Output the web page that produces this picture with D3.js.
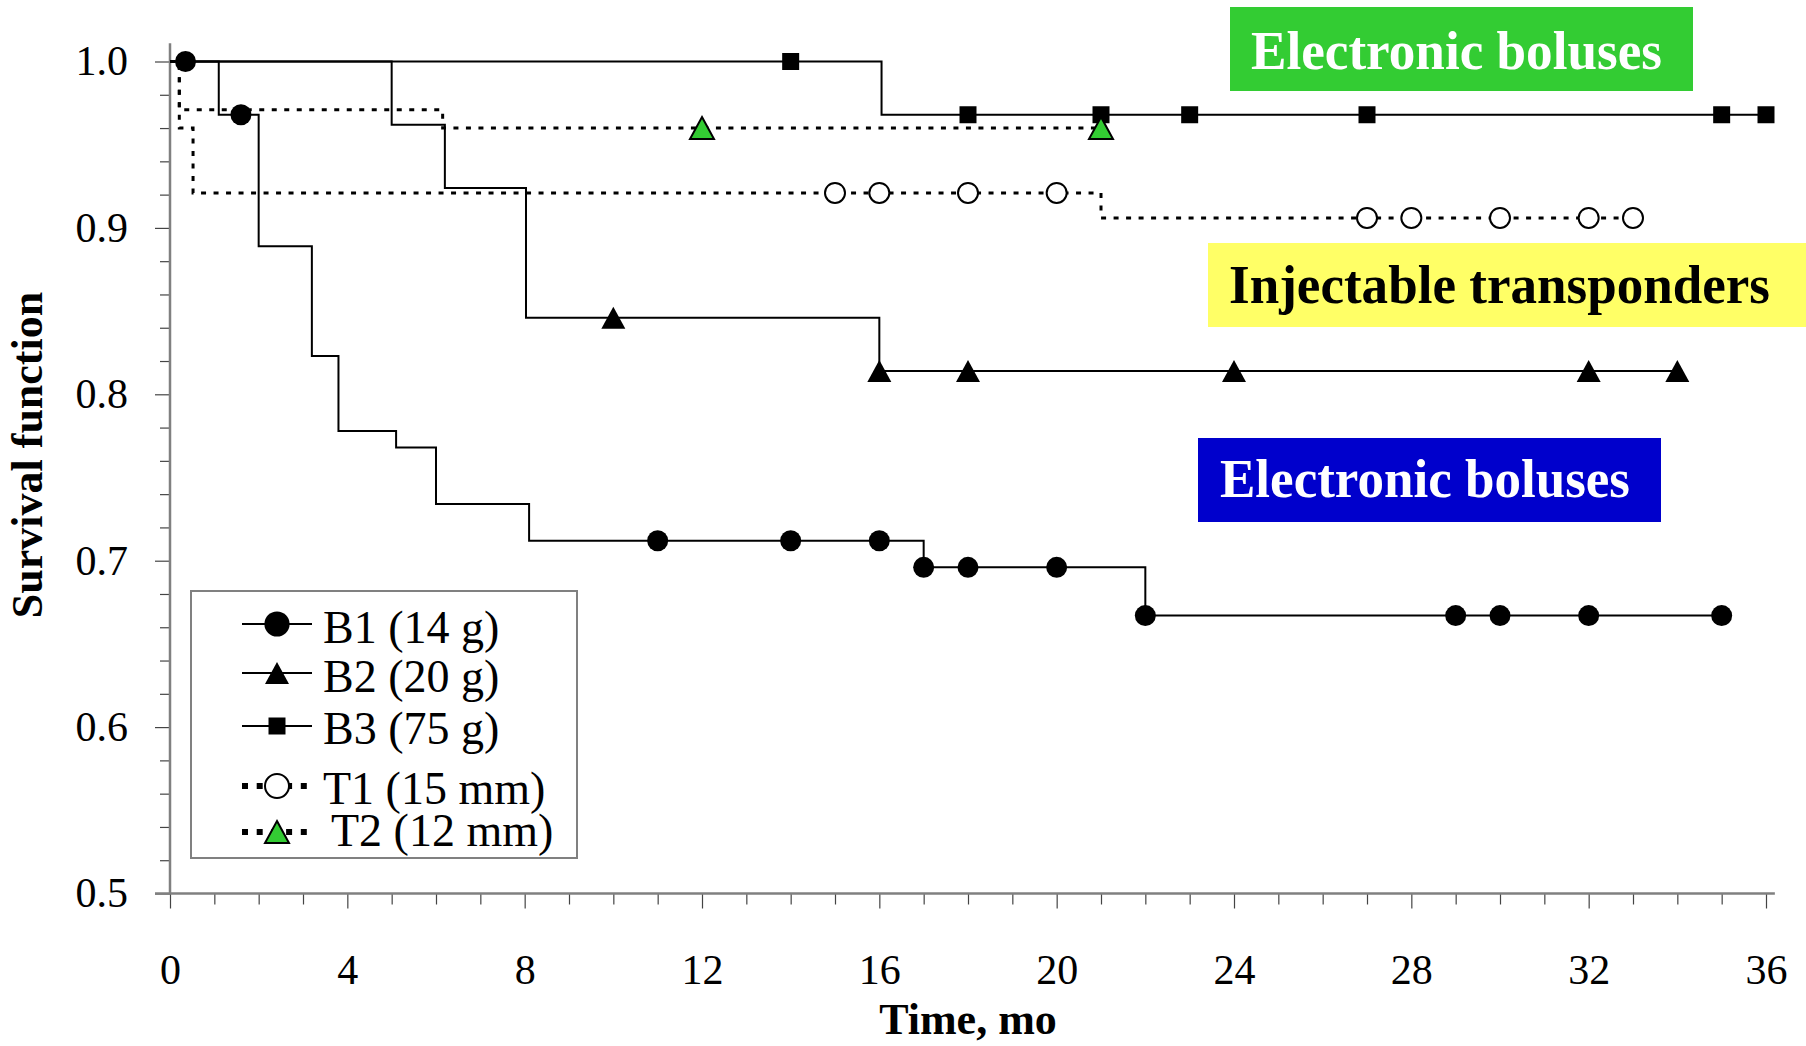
<!DOCTYPE html>
<html>
<head>
<meta charset="utf-8">
<script src="https://cdn.jsdelivr.net/npm/d3@7/dist/d3.min.js"></script>
<style>
  body { margin: 0; background: #fff; }
  svg { display: block; }
  text { font-family: "Liberation Serif", "Times New Roman", serif; }
</style>
</head>
<body>
<svg width="1806" height="1046"></svg>
<script>
// datos
const xTicks = [0, 4, 8, 12, 16, 20, 24, 28, 32, 36];
const yTicks = [0.5, 0.6, 0.7, 0.8, 0.9, 1.0];

// B1 (14 g)
const b1Times = [0, 1.1, 2.0, 3.2, 3.8, 5.1, 6.0, 8.1, 17.0, 22.0, 35];
const b1Surv  = [1.0, 0.968, 0.889, 0.823, 0.778, 0.768, 0.734, 0.712, 0.696, 0.667, 0.667];
const b1Cens  = [0.35, 1.6, 11, 14, 16, 17, 18, 20, 22, 29, 30, 32, 35];
// B2 (20 g)
const b2Times = [0, 5.0, 6.2, 8.03, 16.0, 34];
const b2Surv  = [1.0, 0.962, 0.924, 0.846, 0.814, 0.814];
const b2Cens  = [10, 16, 18, 24, 32, 34];
// B3 (75 g)
const b3Times = [0, 16.05, 36];
const b3Surv  = [1.0, 0.968, 0.968];
const b3Cens  = [14, 18, 21, 23, 27, 35, 36];
// T1 (15 mm)
const t1Times = [0, 0.21, 0.52, 21.0, 33];
const t1Surv  = [1.0, 0.960, 0.921, 0.906, 0.906];
const t1Cens  = [15, 16, 18, 20, 27, 28, 30, 32, 33];
// T2 (12 mm)
const t2Times = [0, 0.21, 6.15, 21];
const t2Surv  = [1.0, 0.971, 0.960, 0.960];
const t2Cens  = [12, 21];

const seriesNames = ["B1 (14 g)", "B2 (20 g)", "B3 (75 g)", "T1 (15 mm)", "T2 (12 mm)"];

// tabla de series armada a partir de los arreglos
const series = [
  { name: seriesNames[0], times: b1Times, surv: b1Surv, cens: b1Cens, shape: "circle",   fill: "#000",    dotted: false },
  { name: seriesNames[1], times: b2Times, surv: b2Surv, cens: b2Cens, shape: "triangle", fill: "#000",    dotted: false },
  { name: seriesNames[2], times: b3Times, surv: b3Surv, cens: b3Cens, shape: "square",   fill: "#000",    dotted: false },
  { name: seriesNames[3], times: t1Times, surv: t1Surv, cens: t1Cens, shape: "ocircle",  fill: "#fff",    dotted: true },
  { name: seriesNames[4], times: t2Times, surv: t2Surv, cens: t2Cens, shape: "gtriangle", fill: "#33cc33", dotted: true }
];

const svg = d3.select("svg");

// escalas
const x = d3.scaleLinear().domain([0, 36]).range([170, 1766]);
const y = d3.scaleLinear().domain([0.5, 1.0]).range([893.5, 61.5]);

// valor de la curva escalonada en un tiempo dado
function survAt(s, t) {
  const i = d3.bisectRight(s.times, t) - 1;
  return s.surv[Math.max(0, i)];
}

// ejes: marcas menores y mayores
const xMinor = d3.range(0, 37).filter(d => d % 4 !== 0);
const yMinor = d3.range(25, 51).filter(i => i % 5 !== 0).map(i => i / 50);

const gx = svg.append("g").attr("transform", `translate(0,${y(0.5)})`);
gx.append("g").call(d3.axisBottom(x).tickValues(xMinor).tickSize(11).tickFormat(""));
gx.append("g").call(d3.axisBottom(x).tickValues(xTicks).tickSize(15).tickPadding(46).tickFormat(d3.format("d")));
gx.selectAll(".domain").remove();
gx.selectAll("line").attr("stroke", "#444").attr("stroke-width", 1.2);
gx.selectAll("text").style("font-size", "42px").attr("fill", "#000");

const gy = svg.append("g").attr("transform", `translate(${x(0)},0)`);
gy.append("g").call(d3.axisLeft(y).tickValues(yMinor).tickSize(10).tickFormat(""));
gy.append("g").call(d3.axisLeft(y).tickValues(yTicks).tickSize(15).tickPadding(27).tickFormat(d3.format(".1f")));
gy.selectAll(".domain").remove();
gy.selectAll("line").attr("stroke", "#444").attr("stroke-width", 1.2);
gy.selectAll("text").style("font-size", "42px").attr("fill", "#000");

// líneas de los ejes
svg.append("line")
  .attr("x1", x(0)).attr("x2", x(0))
  .attr("y1", y(1.011)).attr("y2", y(0.5))
  .attr("stroke", "#808080").attr("stroke-width", 2.5);
svg.append("line")
  .attr("x1", x(0) - 15).attr("x2", x(36.2))
  .attr("y1", y(0.5)).attr("y2", y(0.5))
  .attr("stroke", "#808080").attr("stroke-width", 2.5);

// títulos de ejes
svg.append("text")
  .attr("x", 968).attr("y", 1034)
  .attr("text-anchor", "middle")
  .style("font-size", "44px").style("font-weight", "bold")
  .text("Time, mo");

svg.append("text")
  .attr("transform", "translate(42,455) rotate(-90)")
  .attr("text-anchor", "middle")
  .style("font-size", "44px").style("font-weight", "bold")
  .text("Survival function");

// curvas escalonadas
const stepLine = d3.line()
  .x(d => x(d[0]))
  .y(d => y(d[1]))
  .curve(d3.curveStepAfter);

svg.selectAll(".curve")
  .data(series)
  .enter()
  .append("path")
  .attr("class", "curve")
  .attr("d", s => stepLine(s.times.map((t, i) => [t, s.surv[i]])))
  .attr("fill", "none")
  .attr("stroke", "#000")
  .attr("stroke-width", s => s.dotted ? 3 : 2)
  .attr("stroke-dasharray", s => s.dotted ? "5,7.5" : null);

// marcadores
function markerPath(shape, k) {
  if (shape === "square") {
    const h = 8.5 * k;
    return `M${-h},${-h}H${h}V${h}H${-h}Z`;
  }
  if (shape === "triangle" || shape === "gtriangle") {
    const w = 12 * k, h = 11 * k;
    return `M0,${-h}L${w},${h}L${-w},${h}Z`;
  }
  return null;
}

function drawMarker(g, s, k) {
  if (s.shape === "circle" || s.shape === "ocircle") {
    g.append("circle")
      .attr("r", s.shape === "circle" ? 10.5 * k : 10 * k)
      .attr("fill", s.fill)
      .attr("stroke", "#000")
      .attr("stroke-width", s.shape === "ocircle" ? 2 : 0);
  } else {
    g.append("path")
      .attr("d", markerPath(s.shape, k))
      .attr("fill", s.fill)
      .attr("stroke", "#000")
      .attr("stroke-width", s.shape === "gtriangle" ? 2 : 0);
  }
}

series.forEach(s => {
  svg.selectAll(null)
    .data(s.cens)
    .enter()
    .append("g")
    .attr("transform", t => `translate(${x(t)},${y(survAt(s, t))})`)
    .each(function () { drawMarker(d3.select(this), s, 1); });
});

// leyenda
const legend = svg.append("g");
legend.append("rect")
  .attr("x", 191).attr("y", 591)
  .attr("width", 386).attr("height", 267)
  .attr("fill", "#fff")
  .attr("stroke", "#808080").attr("stroke-width", 2);

const rowY = [624, 673, 726, 786, 832];
const rowText = [643, 692, 744, 804, 846];
series.forEach((s, i) => {
  const row = legend.append("g");
  row.append("line")
    .attr("x1", 242).attr("x2", 312)
    .attr("y1", rowY[i]).attr("y2", rowY[i])
    .attr("stroke", "#000")
    .attr("stroke-width", s.dotted ? 6 : 2)
    .attr("stroke-dasharray", s.dotted ? "6,8.7" : null);
  const m = row.append("g").attr("transform", `translate(277,${rowY[i]})`);
  drawMarker(m, s, s.shape === "ocircle" ? 1.2 : (s.shape === "circle" ? 1.2 : 1));
  row.append("text")
    .attr("x", i === 4 ? 331 : 323)
    .attr("y", rowText[i])
    .style("font-size", "46px")
    .text(s.name);
});

// recuadros de anotación
const notes = [
  { text: "Electronic boluses", x: 1230, y: 7, w: 463, h: 84, bg: "#33cc33", color: "#fff", tx: 1251, ty: 69, len: 411 },
  { text: "Injectable transponders", x: 1208, y: 243, w: 600, h: 84, bg: "#ffff66", color: "#000", tx: 1229, ty: 303, len: 541 },
  { text: "Electronic boluses", x: 1198, y: 438, w: 463, h: 84, bg: "#0000cc", color: "#fff", tx: 1220, ty: 497, len: 410 }
];
notes.forEach(n => {
  svg.append("rect")
    .attr("x", n.x).attr("y", n.y)
    .attr("width", n.w).attr("height", n.h)
    .attr("fill", n.bg);
  svg.append("text")
    .attr("x", n.tx).attr("y", n.ty)
    .attr("textLength", n.len)
    .attr("lengthAdjust", "spacingAndGlyphs")
    .style("font-size", "54px").style("font-weight", "bold")
    .attr("fill", n.color)
    .text(n.text);
});
</script>
</body>
</html>
